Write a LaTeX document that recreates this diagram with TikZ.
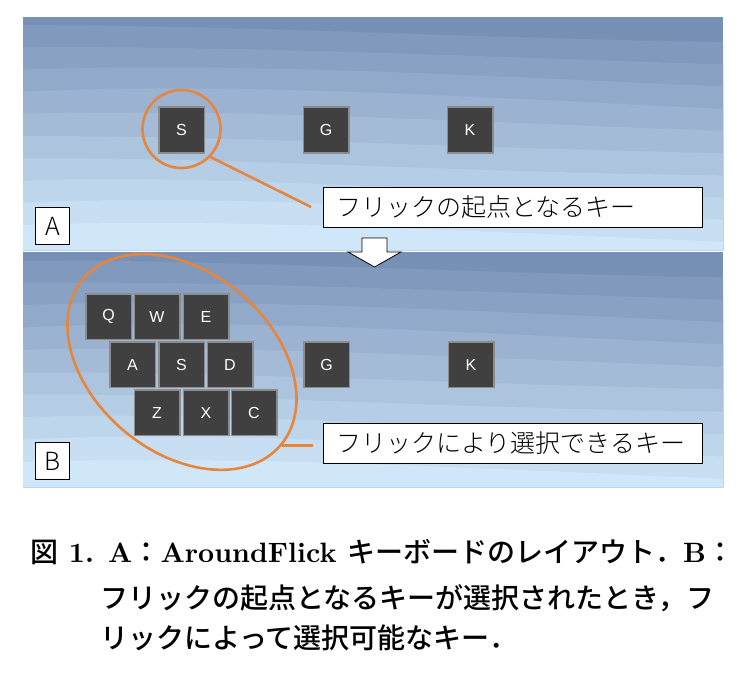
\documentclass[tikz,border=0pt]{standalone}
\usepackage{fontspec}
\newfontfamily\jp{Noto Sans CJK JP Light}
\newfontfamily\jpb{Noto Sans CJK JP Medium}
\newfontfamily\lmb{lmroman10-bold}[Extension=.otf]
\newfontfamily\keyfont{Liberation Sans}
\usetikzlibrary{shapes.geometric}
\definecolor{bgtop}{RGB}{119,144,181}
\definecolor{bgbot}{RGB}{208,231,250}
\definecolor{keyfill}{RGB}{64,64,64}
\definecolor{keyedge}{RGB}{140,140,140}
\definecolor{hl}{RGB}{230,134,60}
\newcommand\panelbg[2]{%
  \begin{scope}
    \clip (23,#1) rectangle (723,#2);
    \fill[bgtop] (23,#1) rectangle (723,#2);
    \foreach \i in {1,...,10}{
      \pgfmathsetmacro\yy{#1 + \i*(#2-#1)/10.5 - 14}
      \pgfmathsetmacro\ya{\yy - 5 + 5*sin(\i*70)}
      \pgfmathsetmacro\yb{\yy + 9 + 5*cos(\i*50)}
      \pgfmathsetmacro\yc{\yy + 17}
      \pgfmathtruncatemacro\pp{\i*10}
      \fill[bgbot!\pp!bgtop] (23,\yy) .. controls (230,\ya) and (450,\yb) .. (723,\yc) -- (723,#2) -- (23,#2) -- cycle;
    }
  \end{scope}}
\tikzset{
  key/.style={draw=keyedge, fill=keyfill, line width=1.5pt, minimum width=45.5pt, minimum height=45.5pt,
    inner sep=0pt, text=white, font=\keyfont\fontsize{16}{16}\selectfont},
  labelbox/.style={draw=black, fill=white, line width=0.8pt, text width=353pt, align=left, inner xsep=13pt,
    inner ysep=0pt, minimum height=40pt, anchor=north west, font=\jp\fontsize{25}{25}\selectfont},
  letterbox/.style={draw=black, fill=white, line width=0.8pt, minimum width=34pt, minimum height=37pt,
    inner sep=0pt, anchor=north west, font=\jp\fontsize{25}{25}\selectfont},
  hlline/.style={draw=hl, line width=2.6pt},
  capline/.style={anchor=base west, inner sep=0pt, font=\fontsize{28}{28}\selectfont\lmb}
}
\begin{document}
\begin{tikzpicture}[x=1pt,y=-1pt]
\useasboundingbox (0,0) rectangle (749,674);
\fill[white] (0,0) rectangle (749,674);
% panels
\panelbg{17}{250}
\panelbg{252}{487}
% Panel A
\node[key] (aS) at (181.5,130) {S};
\node[key] (aG) at (326,130) {G};
\node[key] (aK) at (470,130) {K};
\node[circle, hlline, minimum size=78pt, inner sep=0pt] (circ) at (181.5,129) {};
\node[labelbox] (labA) at (323,187) {フリックの起点となるキー};
\coordinate (endA) at (311,207);
\draw[hlline] (circ.-44) -- (endA);
\node[letterbox] (boxA) at (35,207) {A};
% Panel B
\node[key] (bQ) at (108.5,316.5) {Q};
\node[key] (bW) at (157,316.5) {W};
\node[key] (bE) at (206,316.5) {E};
\node[key] (bA) at (132.5,364.5) {A};
\node[key] (bS) at (181.5,364.5) {S};
\node[key] (bD) at (230,364.5) {D};
\node[key] (bZ) at (157,412.5) {Z};
\node[key] (bX) at (206,412.5) {X};
\node[key] (bC) at (254,412.5) {C};
\node[key] (bG) at (326.5,364.5) {G};
\node[key] (bK) at (471,364.5) {K};
\node[ellipse, hlline, minimum width=258pt, minimum height=180pt, inner sep=0pt, rotate=-40] (ell) at (182,362) {};
\node[labelbox] (labB) at (323,423) {フリックにより選択できるキー};
\coordinate (endB) at (313,443);
\draw[hlline] (ell.east) -- (ell.east -| endB);
\node[letterbox] (boxB) at (35,442) {B};
% arrow
\draw[fill=white, line width=0.8pt, line join=miter] (362,238) -- (387,238) -- (387,252) -- (401,252) -- (374.5,267) -- (348,252) -- (362,252) -- cycle;
% caption
\node[capline] (cap1) at (30,562) {{\jpb 図} 1. A{\jpb ：}AroundFlick {\jpb キーボードのレイアウト．}B{\jpb ：}};
\node[capline] (cap2) at (100,608) {\jpb フリックの起点となるキーが選択されたとき，フ};
\node[capline] (cap3) at (100,648) {\jpb リックによって選択可能なキー．};
\end{tikzpicture}
\end{document}
